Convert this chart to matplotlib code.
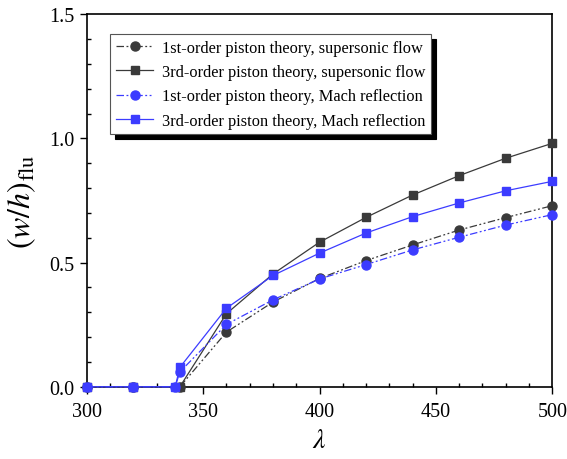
import matplotlib.pyplot as plt
import numpy as np

plt.rcParams['font.family'] = 'Liberation Serif'
plt.rcParams['mathtext.fontset'] = 'stix'

# flutter amplitude vs. dynamic pressure parameter
lam_sup = [300, 320, 340, 360, 380, 400, 420, 440, 460, 480, 500]
w1_sup = [0, 0, 0, 0.220, 0.341, 0.436, 0.508, 0.571, 0.631, 0.681, 0.729]
w3_sup = [0, 0, 0, 0.294, 0.454, 0.582, 0.682, 0.772, 0.850, 0.920, 0.980]

lam_mr = [300, 320, 338, 340, 360, 380, 400, 420, 440, 460, 480, 500]
w1_mr = [0, 0, 0, 0.060, 0.251, 0.350, 0.434, 0.492, 0.551, 0.602, 0.651, 0.693]
w3_mr = [0, 0, 0, 0.078, 0.316, 0.448, 0.538, 0.619, 0.685, 0.740, 0.789, 0.827]

labels = ['1st-order piston theory, supersonic flow',
          '3rd-order piston theory, supersonic flow',
          '1st-order piston theory, Mach reflection',
          '3rd-order piston theory, Mach reflection']

gray = '#3a3a3a'
blue = '#3c3cff'
dashdotdot = (0, (6, 2, 1.5, 2, 1.5, 2))

fig = plt.figure(figsize=(5.67, 4.6), dpi=100)
ax = fig.add_axes([0.153, 0.157, 0.821, 0.81])

kw = dict(lw=0.9, clip_on=False, zorder=3)
ax.plot(lam_sup, w1_sup, color=gray, ls=dashdotdot, marker='o', ms=6.5, label=labels[0], **kw)
ax.plot(lam_sup, w3_sup, color=gray, ls='-', marker='s', ms=6, label=labels[1], **kw)
ax.plot(lam_mr, w1_mr, color=blue, ls=dashdotdot, marker='o', ms=6.5, label=labels[2], **kw)
ax.plot(lam_mr, w3_mr, color=blue, ls='-', marker='s', ms=6, label=labels[3], **kw)

ax.set_xlim(300, 500)
ax.set_ylim(0, 1.5)
ax.set_xticks(np.arange(300, 501, 50))
ax.set_xticks(np.arange(300, 501, 10), minor=True)
ax.set_yticks([0, 0.5, 1.0, 1.5])
ax.set_yticks(np.arange(0, 1.51, 0.1), minor=True)
ax.yaxis.set_major_formatter(plt.FormatStrFormatter('%.1f'))
ax.tick_params(which='major', direction='out', length=5, width=1, labelsize=14.5, pad=4)
ax.tick_params(axis='x', which='major', pad=6)
ax.tick_params(which='minor', direction='in', length=3, width=1)
for s in ax.spines.values():
    s.set_linewidth(1.2)

ax.set_xlabel(r'$\lambda$', fontsize=20, labelpad=5)
ax.set_ylabel(r'$(w/h)_{\rm flu}$', fontsize=23, labelpad=8)

leg = ax.legend(loc='upper left', bbox_to_anchor=(0.05, 0.946), fontsize=11.8,
                frameon=True, fancybox=False,
                shadow={'color': 'black', 'alpha': 1, 'ox': 3.5, 'oy': -3.5},
                edgecolor='#555555', handlelength=2.3, handletextpad=0.5,
                borderpad=0.35, labelspacing=0.5, borderaxespad=0)
leg.get_frame().set_linewidth(0.8)
leg.set_zorder(5)

fig.savefig('out.png', dpi=100)
